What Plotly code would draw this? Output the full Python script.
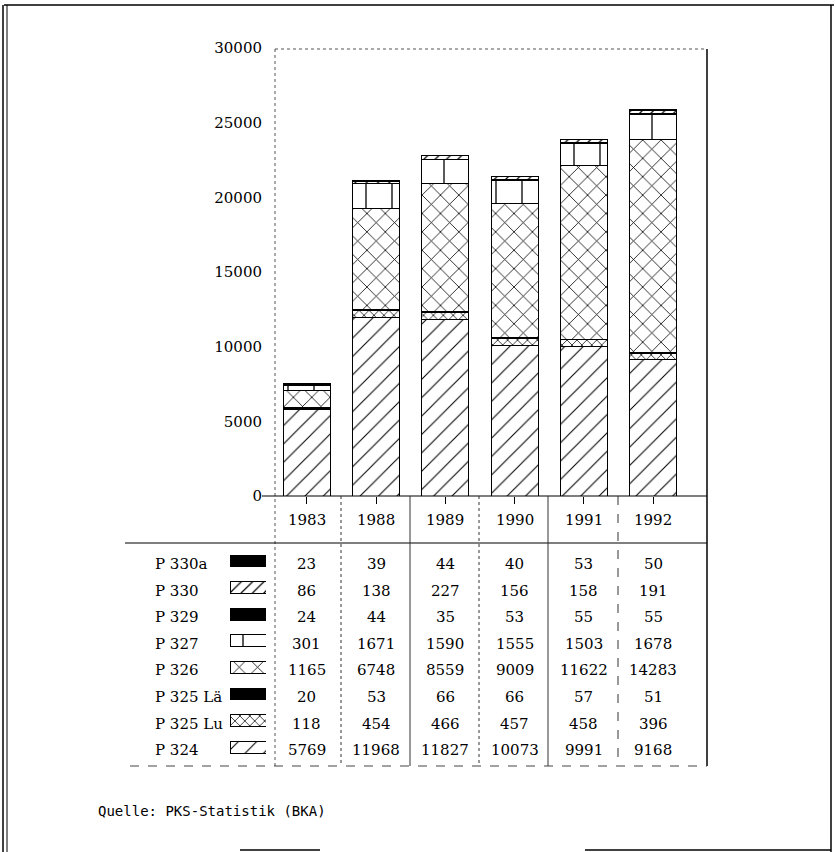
import plotly.graph_objects as go

W, H = 836, 852

years = ["1983", "1988", "1989", "1990", "1991", "1992"]
series_names = ["P 330a", "P 330", "P 329", "P 327", "P 326", "P 325 Lä", "P 325 Lu", "P 324"]
p330a = [23, 39, 44, 40, 53, 50]
p330 = [86, 138, 227, 156, 158, 191]
p329 = [24, 44, 35, 53, 55, 55]
p327 = [301, 1671, 1590, 1555, 1503, 1678]
p326 = [1165, 6748, 8559, 9009, 11622, 14283]
p325la = [20, 53, 66, 66, 57, 51]
p325lu = [118, 454, 466, 457, 458, 396]
p324 = [5769, 11968, 11827, 10073, 9991, 9168]
y_ticks = [0, 5000, 10000, 15000, 20000, 25000, 30000]
source_text = "Quelle: PKS-Statistik (BKA)"

values = {
    "P 330a": p330a, "P 330": p330, "P 329": p329, "P 327": p327,
    "P 326": p326, "P 325 Lä": p325la, "P 325 Lu": p325lu, "P 324": p324,
}

styles = {
    "P 324": dict(shape="/", size=13, solidity=0.08),
    "P 325 Lu": dict(shape="x", size=7, solidity=0.2),
    "P 325 Lä": None,
    "P 326": dict(shape="x", size=13, solidity=0.12),
    "P 327": dict(shape="|", size=26, solidity=0.05),
    "P 329": None,
    "P 330": dict(shape="/", size=8, solidity=0.15),
    "P 330a": None,
}

def px(x):
    return x / W

def py(y):
    return 1 - y / H

FONT = "DejaVu Serif"
ROW0, ROWSTEP = 564, 26.6
TABLE_BOTTOM = 766

def marker_for(name):
    st = styles[name]
    if st is None:
        return dict(color="black", line=dict(color="black", width=1))
    return dict(color="white", line=dict(color="black", width=1),
                pattern=dict(fgcolor="black", bgcolor="white", fillmode="replace", **st))

fig = go.Figure()

# stacked bars, bottom first
stack_order = ["P 324", "P 325 Lu", "P 325 Lä", "P 326", "P 327", "P 329", "P 330", "P 330a"]
for name in stack_order:
    fig.add_trace(go.Bar(x=years, y=values[name], name=name, width=0.68,
                         marker=marker_for(name), showlegend=False,
                         xaxis="x", yaxis="y"))

# legend swatches in table
for i, name in enumerate(series_names):
    fig.add_trace(go.Bar(x=[1], y=[i], orientation="h", width=0.45,
                         marker=marker_for(name), showlegend=False,
                         xaxis="x2", yaxis="y2"))

row_top = ROW0 - ROWSTEP / 2
row_bot = ROW0 + 7.5 * ROWSTEP
fig.update_layout(
    width=W, height=H, autosize=False,
    margin=dict(l=0, r=0, t=0, b=0, autoexpand=False),
    paper_bgcolor="white", plot_bgcolor="white",
    barmode="stack",
    font=dict(family=FONT, size=15, color="black"),
    xaxis=dict(domain=[px(275), px(707)], range=[-0.462, 5.78],
               type="category", showticklabels=False, showline=False,
               showgrid=False, zeroline=False, ticks="outside", ticklen=7,
               tickcolor="black", tickwidth=1, anchor="y", automargin=False),
    yaxis=dict(domain=[py(496), py(48)], range=[0, 30000], tickvals=y_ticks,
               tickformat="d",
               showgrid=False, zeroline=False, showline=False,
               ticks="", ticklabelstandoff=12, automargin=False,
               tickfont=dict(family=FONT, size=15, color="black"), anchor="x"),
    xaxis2=dict(domain=[px(230), px(266)], range=[0, 1], visible=False, anchor="y2"),
    yaxis2=dict(domain=[py(row_bot - 3), py(row_top - 3)], range=[7.5, -0.5],
                visible=False, anchor="x2"),
)

annotations = []
# year header
for j, yr in enumerate(years):
    annotations.append(dict(x=j, y=py(520), xref="x", yref="paper", text=yr,
                            yanchor="middle", showarrow=False,
                            font=dict(family=FONT, size=15)))
# rows
for i, name in enumerate(series_names):
    yrow = py(ROW0 + i * ROWSTEP)
    annotations.append(dict(x=px(153), y=yrow, xref="paper", yref="paper",
                            text=name, showarrow=False, xanchor="left",
                            yanchor="middle", font=dict(family=FONT, size=15)))
    for j, yr in enumerate(years):
        annotations.append(dict(x=j, y=yrow, xref="x", yref="paper",
                                text=str(values[name][j]), showarrow=False,
                                yanchor="middle", font=dict(family=FONT, size=15)))
annotations.append(dict(x=px(96), y=py(811), xref="paper", yref="paper",
                        text=source_text, showarrow=False, xanchor="left",
                        yanchor="middle",
                        font=dict(family="DejaVu Sans Mono", size=14)))
fig.update_layout(annotations=annotations)

shapes = []
def line(x0, y0, x1, y1, dash="solid", width=1, color="black"):
    shapes.append(dict(type="line", xref="paper", yref="paper",
                       x0=px(x0), y0=py(y0), x1=px(x1), y1=py(y1),
                       line=dict(color=color, width=width, dash=dash)))

# plot frame
line(275, 49, 707, 49, dash="dot", color="#555")
line(275, 49, 275, TABLE_BOTTOM, dash="dot", color="#555")
line(707, 49, 707, TABLE_BOTTOM, width=1.5)
line(262, 496, 707, 496, width=1.2)
# table lines
line(125, 543, 707, 543, width=1.2)
line(130, TABLE_BOTTOM, 707, TABLE_BOTTOM, dash="dash", color="#444")
for xs, d in [(341, "dot"), (410, "solid"), (479, "dot"), (548, "solid"), (618, "dash")]:
    line(xs, 496, xs, TABLE_BOTTOM, dash=d, color="#333")
# page frame
line(4, 5, 834, 5, width=1.5)
line(3, 5, 3, 852, width=1.5)
line(7, 5, 7, 852, width=1)
line(831, 5, 831, 852, width=1.5)
line(240, 850, 320, 850, width=1.5)
line(585, 850, 831, 850, width=1.5)
fig.update_layout(shapes=shapes)

fig.write_html("out.html", config={"responsive": False, "displayModeBar": False},
               post_script="document.body.style.margin='0';document.body.style.overflow='hidden';")
